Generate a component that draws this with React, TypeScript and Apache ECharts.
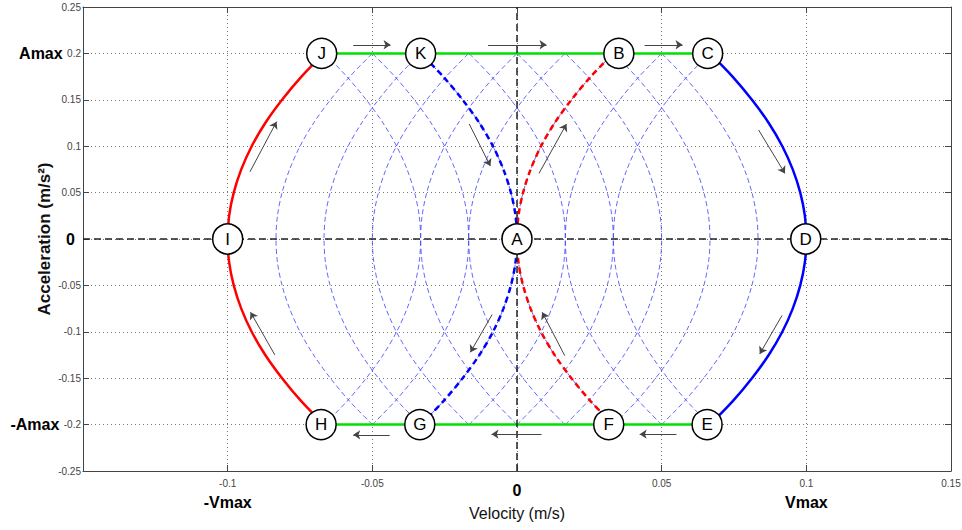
import React, { useEffect, useRef } from "react";
import * as echarts from "echarts";

// Acceleration samples along each phase-plane curve (m/s²)
const ACC = [-0.2, -0.175, -0.15, -0.125, -0.1, -0.075, -0.05, -0.025, 0, 0.025, 0.05, 0.075, 0.1, 0.125, 0.15, 0.175, 0.2];
// Velocity spread from a curve's vertex at each acceleration sample (m/s)
const SPREAD = [0.0333, 0.0255, 0.0188, 0.013, 0.0083, 0.0047, 0.0021, 0.0005, 0, 0.0005, 0.0021, 0.0047, 0.0083, 0.013, 0.0188, 0.0255, 0.0333];

// Vertices (velocity at a = 0) of the thin dashed family
const FAN_RIGHT = [-0.0833, -0.0667, -0.05, -0.0333, -0.0167, 0, 0.0167, 0.0333];
const FAN_LEFT = [-0.0333, -0.0167, 0, 0.0167, 0.0333, 0.05, 0.0667, 0.0833];

// Main trajectory
const VMAX = 0.1;
const AMAX = 0.2;
const CRUISE_ENDS = [-0.0667, 0.0667];

// Labelled points
const POINT_NAMES = ["A", "B", "C", "D", "E", "F", "G", "H", "I", "J", "K"];
const POINT_V = [0, 0.0352, 0.0659, 0.0998, 0.0657, 0.0317, -0.0336, -0.0677, -0.1, -0.0675, -0.0333];
const POINT_A = [0, 0.2, 0.2, 0, -0.2, -0.2, -0.2, -0.2, 0, 0.2, 0.2];

// Direction arrows: [v, a] start and end
const ARROW_FROM = [
  [-0.0566, 0.2093], [-0.01, 0.2093], [0.0441, 0.2093],
  [-0.0923, 0.0724], [-0.0837, -0.1249],
  [-0.044, -0.211], [0.0085, -0.2103], [0.0551, -0.2103],
  [0.0835, 0.1175], [0.0916, -0.0824],
  [-0.0165, 0.1239], [0.0076, 0.0707], [-0.0086, -0.0814], [0.0165, -0.1257],
];
const ARROW_TO = [
  [-0.0437, 0.2093], [0.0102, 0.2093], [0.0572, 0.2093],
  [-0.0831, 0.1264], [-0.0921, -0.0789],
  [-0.0566, -0.211], [-0.0088, -0.2103], [0.0424, -0.2103],
  [0.0926, 0.0707], [0.0839, -0.1238],
  [-0.0092, 0.0786], [0.0171, 0.1239], [-0.0161, -0.1221], [0.0087, -0.0789],
];

const FONT = "'Liberation Sans', Arial, Helvetica, sans-serif";

const curve = (vertex: number, dir: number) => ACC.map((a, i) => [vertex + dir * SPREAD[i], a]);

const round2 = (v: number) => Math.round(v * 100) / 100;

export default function App() {
  const ref = useRef<HTMLDivElement>(null);
  useEffect(() => {
    const chart = echarts.init(ref.current!, null, { renderer: "svg" });

    const thin = { color: "rgba(60,60,255,0.78)", width: 1, type: [5, 3] as any };
    const series: any[] = [];
    FAN_RIGHT.forEach((v0) =>
      series.push({ type: "line", data: curve(v0, 1), smooth: 0.3, symbol: "none", lineStyle: thin, z: 2, silent: true })
    );
    FAN_LEFT.forEach((v0) =>
      series.push({ type: "line", data: curve(v0, -1), smooth: 0.3, symbol: "none", lineStyle: thin, z: 2, silent: true })
    );
    // outer boundary curves
    series.push({ type: "line", data: curve(-VMAX, 1), smooth: 0.3, symbol: "none", lineStyle: { color: "#ff0000", width: 2.5 }, z: 3 });
    series.push({ type: "line", data: curve(VMAX, -1), smooth: 0.3, symbol: "none", lineStyle: { color: "#0000ff", width: 2.5 }, z: 3 });
    // inner curves through A
    series.push({ type: "line", data: curve(0, 1), smooth: 0.3, symbol: "none", lineStyle: { color: "#ff0000", width: 2.5, type: [6, 4] }, z: 3 });
    series.push({ type: "line", data: curve(0, -1), smooth: 0.3, symbol: "none", lineStyle: { color: "#0000ff", width: 2.5, type: [6, 4] }, z: 3 });
    // cruise (constant acceleration) segments
    series.push({ type: "line", data: [[CRUISE_ENDS[0], AMAX], [CRUISE_ENDS[1], AMAX]], symbol: "none", lineStyle: { color: "#00e000", width: 2.5 }, z: 3 });
    series.push({ type: "line", data: [[CRUISE_ENDS[0], -AMAX], [CRUISE_ENDS[1], -AMAX]], symbol: "none", lineStyle: { color: "#00e000", width: 2.5 }, z: 3 });
    // zero axes
    series.push({ type: "line", data: [[-0.15, 0], [0.15, 0]], symbol: "none", lineStyle: { color: "#222", width: 1.5, type: [7, 4] }, z: 4 });
    series.push({ type: "line", data: [[0, -0.25], [0, 0.25]], symbol: "none", lineStyle: { color: "#222", width: 1.5, type: [7, 4] }, z: 4 });
    // arrows
    series.push({
      type: "lines",
      coordinateSystem: "cartesian2d",
      symbol: ["none", "arrow"],
      symbolSize: 7,
      lineStyle: { color: "#444", width: 1, opacity: 1 },
      data: ARROW_FROM.map((f, i) => ({ coords: [f, ARROW_TO[i]] })),
      z: 5,
    });
    // labelled points
    series.push({
      type: "scatter",
      symbol: "circle",
      symbolSize: 30,
      itemStyle: { color: "#ffffff", borderColor: "#000", borderWidth: 1.5, opacity: 1 },
      label: { show: true, position: "inside", formatter: (p: any) => p.name, color: "#000", fontSize: 17, fontFamily: FONT },
      data: POINT_NAMES.map((n, i) => ({ name: n, value: [POINT_V[i], POINT_A[i]] })),
      z: 6,
    });

    const axisLineStyle = { color: "#444", width: 1 };
    const gridLine = { type: [1, 3] as any, color: "#777", width: 1 };
    const option: any = {
      animation: false,
      backgroundColor: "#ffffff",
      grid: { left: 83, right: 11, top: 7, bottom: 59, containLabel: false, outerBoundsMode: "none" },
      xAxis: [
        {
          type: "value",
          min: -0.15,
          max: 0.15,
          interval: 0.05,
          position: "bottom",
          axisLine: { show: true, onZero: false, lineStyle: axisLineStyle },
          axisTick: { show: true, inside: true, length: 6, lineStyle: axisLineStyle },
          splitLine: { show: true, lineStyle: gridLine },
          axisLabel: {
            margin: 5,
            fontFamily: FONT,
            formatter: (val: number) => {
              const r = round2(val);
              if (r === -0.15) return "";
              if (r === 0) return "{z|0}";
              if (r === -0.1) return "{t|-0.1}\n{b|-Vmax}";
              if (r === 0.1) return "{t|0.1}\n{b|Vmax}";
              return "{t|" + r + "}";
            },
            rich: {
              t: { fontSize: 10, color: "#444", lineHeight: 14, fontFamily: FONT },
              b: { fontSize: 16, fontWeight: "bold", color: "#000", lineHeight: 24, fontFamily: FONT },
              z: { fontSize: 16, fontWeight: "bold", color: "#000", lineHeight: 28, fontFamily: FONT },
            },
          },
          name: "Velocity (m/s)",
          nameLocation: "middle",
          nameGap: 34,
          nameMoveOverlap: false,
          nameTextStyle: { fontSize: 16, color: "#111", fontFamily: FONT },
        },
        {
          type: "value",
          min: -0.15,
          max: 0.15,
          interval: 0.05,
          position: "top",
          axisLine: { show: true, onZero: false, lineStyle: axisLineStyle },
          axisTick: { show: true, inside: true, length: 6, lineStyle: axisLineStyle },
          axisLabel: { show: false },
          splitLine: { show: false },
        },
      ],
      yAxis: [
        {
          type: "value",
          min: -0.25,
          max: 0.25,
          interval: 0.05,
          position: "left",
          axisLine: { show: true, onZero: false, lineStyle: axisLineStyle },
          axisTick: { show: true, inside: true, length: 6, lineStyle: axisLineStyle },
          splitLine: { show: true, lineStyle: gridLine },
          axisLabel: {
            margin: 2,
            fontFamily: FONT,
            formatter: (val: number) => {
              const r = round2(val);
              if (r === 0) return "{z|0}";
              if (r === 0.2) return "{b|Amax }{t|0.2}";
              if (r === -0.2) return "{b|-Amax }{t|-0.2}";
              return "{t|" + r + "}";
            },
            rich: {
              t: { fontSize: 10, color: "#444", fontFamily: FONT },
              b: { fontSize: 16, fontWeight: "bold", color: "#000", fontFamily: FONT },
              z: { fontSize: 16, fontWeight: "bold", color: "#000", fontFamily: FONT, padding: [0, 6, 0, 0] },
            },
          },
          name: "Acceleration (m/s²)",
          nameLocation: "middle",
          nameGap: 30,
          nameMoveOverlap: false,
          nameTextStyle: { fontSize: 17, fontWeight: "bold", color: "#111", fontFamily: FONT },
        },
        {
          type: "value",
          min: -0.25,
          max: 0.25,
          interval: 0.05,
          position: "right",
          axisLine: { show: true, onZero: false, lineStyle: axisLineStyle },
          axisTick: { show: true, inside: true, length: 6, lineStyle: axisLineStyle },
          axisLabel: { show: false },
          splitLine: { show: false },
        },
      ],
      series,
    };
    chart.setOption(option);
    return () => chart.dispose();
  }, []);
  return <div ref={ref} style={{ position: "fixed", left: 0, top: 0, width: 962, height: 530 }} />;
}
